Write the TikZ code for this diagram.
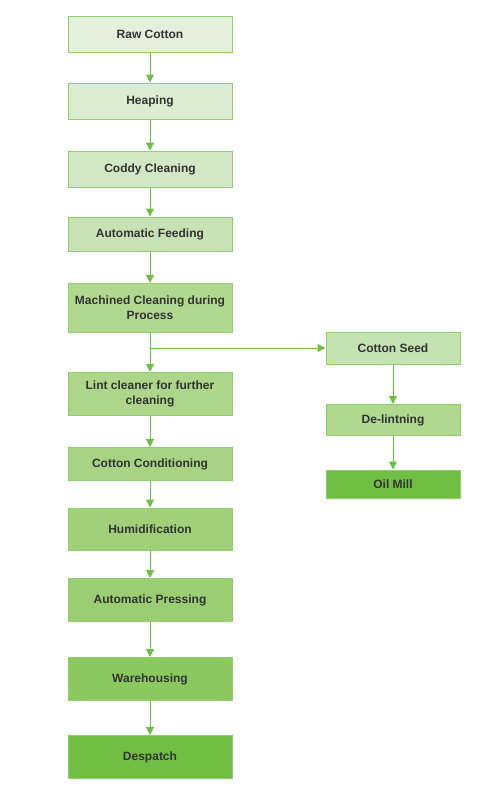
\documentclass[tikz,border=0pt]{standalone}
\usepackage{fontspec}
\setmainfont{Liberation Sans}
\usetikzlibrary{arrows.meta}
\definecolor{edge}{HTML}{8FCF6C}
\definecolor{flow}{HTML}{6CBE45}
\definecolor{ink}{HTML}{333333}
\definecolor{g1}{HTML}{E4F0DC}
\definecolor{g2}{HTML}{DCECD1}
\definecolor{g3}{HTML}{D2E7C3}
\definecolor{g4}{HTML}{C8E2B5}
\definecolor{g5}{HTML}{B1D88F}
\definecolor{g6}{HTML}{ADD68A}
\definecolor{g7}{HTML}{A7D382}
\definecolor{g8}{HTML}{A1D07A}
\definecolor{g9}{HTML}{9BCE72}
\definecolor{g10}{HTML}{8BC85F}
\definecolor{g11}{HTML}{70BF44}
\definecolor{s1}{HTML}{C5E3B1}

\begin{document}
\begin{tikzpicture}[x=1pt,y=-1pt,
   stage/.style={draw=edge, line width=1pt, inner sep=0pt, minimum width=164pt,
                 align=center, font=\fontsize{12}{15}\selectfont\bfseries, text=ink},
   side/.style={stage, minimum width=134pt},
   flowto/.style={draw=flow, line width=1pt, -{Triangle[length=8pt,width=8pt]}}]
   \useasboundingbox (0,0) rectangle (503,796);
   % main line
   \node[stage, fill=g1,  minimum height=36pt] (raw)   at (150, 34) {Raw Cotton};
   \node[stage, fill=g2,  minimum height=36pt] (heap)  at (150,101) {Heaping};
   \node[stage, fill=g3,  minimum height=36pt] (coddy) at (150,169) {Coddy Cleaning};
   \node[stage, fill=g4,  minimum height=34pt] (feed)  at (150,234) {Automatic Feeding};
   \node[stage, fill=g5,  minimum height=49pt] (mach)  at (150,308) {Machined Cleaning during\\Process};
   \node[stage, fill=g6,  minimum height=43pt] (lint)  at (150,394) {Lint cleaner for further\\cleaning};
   \node[stage, fill=g7,  minimum height=33pt] (cond)  at (150,464) {Cotton Conditioning};
   \node[stage, fill=g8,  minimum height=42pt] (humid) at (150,529) {Humidification};
   \node[stage, fill=g9,  minimum height=43pt] (press) at (150,600) {Automatic Pressing};
   \node[stage, fill=g10, minimum height=43pt] (ware)  at (150,679) {Warehousing};
   \node[stage, fill=g11, minimum height=43pt] (desp)  at (150,757) {Despatch};
   % seed line
   \node[side, fill=s1,  minimum height=32pt] (seed)  at (393,348) {Cotton Seed};
   \node[side, fill=g5,  minimum height=31pt] (delint) at (393,420) {De-lintning};
   \node[side, fill=g11, minimum height=28pt] (oil)   at (393,484) {Oil Mill};

   \draw[flowto] (raw) -- (heap);
   \draw[flowto] (heap) -- (coddy);
   \draw[flowto] (coddy) -- (feed);
   \draw[flowto] (feed) -- (mach);
   \draw[flowto] (mach) -- (lint);
   \draw[flowto] (lint) -- (cond);
   \draw[flowto] (cond) -- (humid);
   \draw[flowto] (humid) -- (press);
   \draw[flowto] (press) -- (ware);
   \draw[flowto] (ware) -- (desp);
   \coordinate (fork) at (mach.south |- seed.west);
   \draw[flowto] (fork) -- (seed);
   \draw[flowto] (seed) -- (delint);
   \draw[flowto] (delint) -- (oil);
\end{tikzpicture}
\end{document}
